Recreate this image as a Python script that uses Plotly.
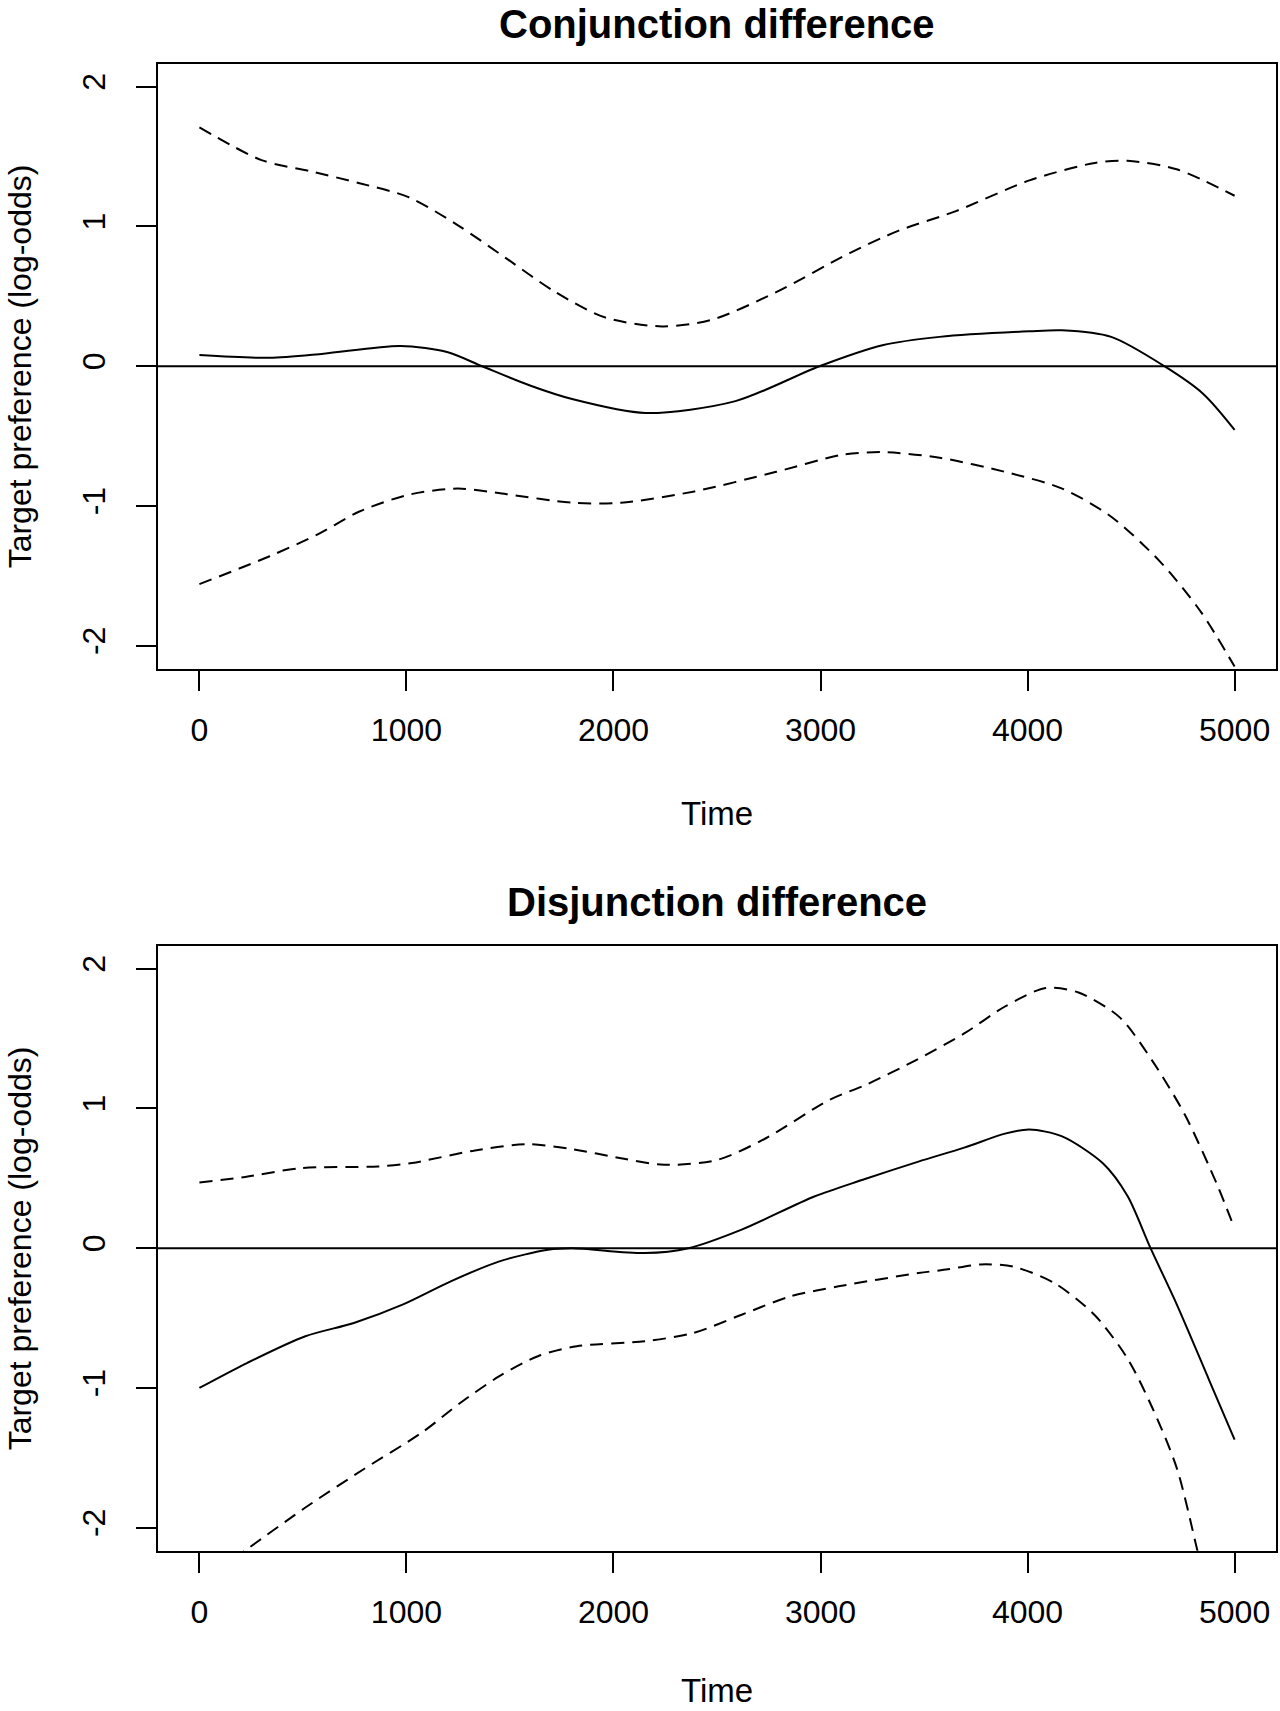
import plotly.graph_objects as go

# ---- Data ----
conj_mean_x = [0, 339, 600, 971, 1200, 1365, 1600, 1800, 2155, 2589, 2995, 3299, 3575, 4009, 4167, 4404, 4661, 4850, 5000]
conj_mean_y = [0.08, 0.06, 0.09, 0.145, 0.10, 0.0, -0.14, -0.235, -0.335, -0.25, 0.0, 0.15, 0.21, 0.25, 0.257, 0.21, 0.0, -0.2, -0.455]

conj_up_x = [0, 300, 537, 773, 1010, 1247, 1484, 1720, 1957, 2234, 2470, 2786, 3141, 3378, 3654, 4009, 4325, 4483, 4720, 5000]
conj_up_y = [1.71, 1.475, 1.395, 1.31, 1.21, 1.01, 0.77, 0.53, 0.35, 0.285, 0.33, 0.53, 0.81, 0.97, 1.11, 1.33, 1.455, 1.47, 1.41, 1.22]

conj_lo_x = [0, 339, 576, 773, 1010, 1247, 1484, 1800, 2036, 2391, 2786, 3102, 3299, 3575, 3890, 4167, 4404, 4641, 4838, 5000]
conj_lo_y = [-1.56, -1.36, -1.20, -1.04, -0.92, -0.876, -0.916, -0.977, -0.977, -0.896, -0.756, -0.635, -0.615, -0.655, -0.756, -0.876, -1.077, -1.40, -1.76, -2.15]

disj_mean_x = [0, 232, 512, 746, 981, 1214, 1449, 1683, 1800, 2151, 2362, 2619, 2970, 3204, 3473, 3694, 3891, 4009, 4167, 4365, 4483, 4594, 4720, 4878, 5000]
disj_mean_y = [-1.0, -0.82, -0.63, -0.535, -0.404, -0.237, -0.094, -0.011, 0.0, -0.035, 0.0, 0.133, 0.37, 0.49, 0.62, 0.72, 0.82, 0.85, 0.80, 0.606, 0.373, 0.0, -0.40, -0.947, -1.37]

disj_up_x = [0, 221, 489, 863, 1027, 1331, 1589, 1800, 2036, 2244, 2502, 2736, 3041, 3220, 3457, 3694, 3891, 4088, 4246, 4444, 4602, 4760, 4917, 5000]
disj_up_y = [0.47, 0.51, 0.573, 0.585, 0.61, 0.70, 0.744, 0.709, 0.644, 0.597, 0.632, 0.787, 1.06, 1.17, 1.343, 1.537, 1.73, 1.863, 1.83, 1.654, 1.343, 0.955, 0.45, 0.14]

disj_lo_x = [0, 243, 512, 793, 1074, 1261, 1449, 1635, 1823, 2151, 2385, 2619, 2854, 3087, 3473, 3615, 3773, 3931, 4128, 4325, 4483, 4602, 4720, 4818, 4910, 5000]
disj_lo_y = [-2.40, -2.14, -1.856, -1.582, -1.32, -1.106, -0.916, -0.773, -0.701, -0.666, -0.607, -0.476, -0.345, -0.273, -0.178, -0.151, -0.116, -0.132, -0.248, -0.48, -0.79, -1.14, -1.57, -2.15, -2.75, -3.35]

x_ticks = [0, 1000, 2000, 3000, 4000, 5000]
y_ticks = [-2, -1, 0, 1, 2]
y_ticktext = ["-2", "-1", "0", "1", "2"]
titles = ["Conjunction difference", "Disjunction difference"]
x_title = "Time"
y_title = "Target preference (log-odds)"

W, H = 1280, 1711
FONT = "Liberation Sans, Arial, Helvetica, sans-serif"

fig = go.Figure()

panels = [
    (conj_mean_x, conj_mean_y, conj_up_x, conj_up_y, conj_lo_x, conj_lo_y, "x", "y"),
    (disj_mean_x, disj_mean_y, disj_up_x, disj_up_y, disj_lo_x, disj_lo_y, "x2", "y2"),
]

dash = "13px,8px"
for mx, my, ux, uy, lx, ly, xa, ya in panels:
    fig.add_trace(go.Scatter(x=mx, y=my, mode="lines", xaxis=xa, yaxis=ya,
                             line=dict(color="black", width=2, shape="spline", smoothing=0.8),
                             showlegend=False, hoverinfo="skip"))
    fig.add_trace(go.Scatter(x=ux, y=uy, mode="lines", xaxis=xa, yaxis=ya,
                             line=dict(color="black", width=2, dash=dash, shape="spline", smoothing=0.8),
                             showlegend=False, hoverinfo="skip"))
    fig.add_trace(go.Scatter(x=lx, y=ly, mode="lines", xaxis=xa, yaxis=ya,
                             line=dict(color="black", width=2, dash=dash, shape="spline", smoothing=0.8),
                             showlegend=False, hoverinfo="skip"))
    fig.add_shape(type="line", xref=f"{xa} domain", yref=ya, x0=0, x1=1, y0=0, y1=0,
                  line=dict(color="black", width=2))

left, right = 158, 1276
top_box = (64, 668.7)
off = 882
bot_box = (top_box[0] + off, top_box[1] + off)

def ydom(b):
    return [1 - b[1] / H, 1 - b[0] / H]

xcommon = dict(range=[-200, 5200], tickvals=x_ticks, ticks="outside", ticklen=20, tickwidth=2,
               tickcolor="black", showline=True, linewidth=2, linecolor="black", mirror=True,
               showgrid=False, zeroline=False, tickfont=dict(family=FONT, size=32, color="black"),
               domain=[left / W, right / W], ticklabelstandoff=12)
ycommon = dict(range=[-2.165, 2.163], tickvals=y_ticks, ticktext=y_ticktext, ticks="outside",
               ticklen=20, tickwidth=2, tickcolor="black", showline=True, linewidth=2,
               linecolor="black", mirror=True, showgrid=False, zeroline=False, tickangle=-90,
               tickfont=dict(family=FONT, size=32, color="black"), ticklabelstandoff=18)

fig.update_layout(
    width=W, height=H, margin=dict(l=0, r=0, t=0, b=0),
    paper_bgcolor="white", plot_bgcolor="white",
    xaxis=dict(**xcommon, anchor="y"),
    yaxis=dict(**ycommon, domain=ydom(top_box), anchor="x"),
    xaxis2=dict(**xcommon, anchor="y2"),
    yaxis2=dict(**ycommon, domain=ydom(bot_box), anchor="x2"),
)

cx = (left + right) / 2 / W
for i, (b, t) in enumerate([(top_box, titles[0]), (bot_box, titles[1])]):
    if i == 0:
        fig.add_annotation(text=f"<b>{t}</b>", x=cx, y=1.0, xref="paper", yref="paper",
                           xanchor="center", yanchor="top", showarrow=False,
                           font=dict(family=FONT, size=40, color="black"))
    else:
        fig.add_annotation(text=f"<b>{t}</b>", x=cx, y=1 - (b[0] - 44) / H, xref="paper", yref="paper",
                           xanchor="center", yanchor="middle", showarrow=False,
                           font=dict(family=FONT, size=40, color="black"))
    if i == 0:
        fig.add_annotation(text=x_title, x=cx, y=1 - (b[1] + 145) / H, xref="paper", yref="paper",
                           xanchor="center", yanchor="middle", showarrow=False,
                           font=dict(family=FONT, size=33, color="black"))
    else:
        fig.add_annotation(text=x_title, x=cx, y=0.0, xref="paper", yref="paper",
                           xanchor="center", yanchor="bottom", showarrow=False,
                           font=dict(family=FONT, size=33, color="black"))
    fig.add_annotation(text=y_title, x=0.0, y=1 - (b[0] + b[1]) / 2 / H, xref="paper", yref="paper",
                       xanchor="left", yanchor="middle", showarrow=False, textangle=-90,
                       font=dict(family=FONT, size=32, color="black"))

fig.write_html("out.html")
